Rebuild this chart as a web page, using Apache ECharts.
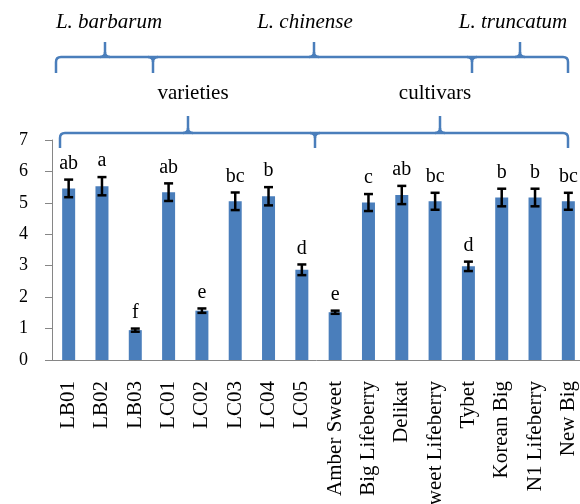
<!DOCTYPE html>
<html>
<head>
<meta charset="utf-8">
<script src="https://cdn.jsdelivr.net/npm/echarts@6/dist/echarts.min.js"></script>
<style>
  html, body { margin: 0; padding: 0; background: #fff; }
  #chart { width: 580px; height: 504px; }
</style>
</head>
<body>
<div id="chart"></div>
<script>
var categories = ['LB01', 'LB02', 'LB03', 'LC01', 'LC02', 'LC03', 'LC04', 'LC05',
  'Amber Sweet', 'Big Lifeberry', 'Delikat', 'Sweet Lifeberry', 'Tybet',
  'Korean Big', 'N1 Lifeberry', 'New Big']
var means = [5.46, 5.53, 0.95, 5.34, 1.57, 5.05, 5.21, 2.87, 1.52, 5.01, 5.25, 5.05, 2.98, 5.17, 5.17, 5.05]
var errors = [0.28, 0.29, 0.05, 0.28, 0.07, 0.28, 0.29, 0.17, 0.05, 0.27, 0.29, 0.27, 0.15, 0.28, 0.28, 0.27]
var letters = ['ab', 'a', 'f', 'ab', 'e', 'bc', 'b', 'd', 'e', 'c', 'ab', 'bc', 'd', 'b', 'b', 'bc']
var yTicks = [0, 1, 2, 3, 4, 5, 6, 7]

var serif = '"Liberation Serif", "Times New Roman", serif'
var braceColor = '#4a7ebb'
var braceStyle = { fill: null, stroke: braceColor, lineWidth: 2.5 }

function seg (x1, y1, x2, y2) {
  return { type: 'line', shape: { x1: x1, y1: y1, x2: x2, y2: y2 }, style: braceStyle }
}
function curve (x1, y1, cx, cy, x2, y2) {
  return { type: 'bezierCurve', shape: { x1: x1, y1: y1, cpx1: cx, cpy1: cy, x2: x2, y2: y2 }, style: braceStyle }
}

// curly brace: ends bend down, tips point up, joins point down
function brace (x1, x2, tips, joins, yLine, yTop, yEnd) {
  var r = 5
  var els = [
    seg(x1, yEnd, x1, yLine + r),
    curve(x1, yLine + r, x1, yLine, x1 + r, yLine),
    seg(x1 + r, yLine, x2 - r, yLine),
    curve(x2 - r, yLine, x2, yLine, x2, yLine + r),
    seg(x2, yLine + r, x2, yEnd)
  ]
  tips.forEach(function (x) {
    els.push(curve(x - r, yLine, x, yLine, x, yLine - r))
    els.push(curve(x + r, yLine, x, yLine, x, yLine - r))
    els.push(seg(x, yLine - r, x, yTop))
  })
  joins.forEach(function (x) {
    els.push(curve(x - r, yLine, x, yLine, x, yLine + r))
    els.push(curve(x + r, yLine, x, yLine, x, yLine + r))
    els.push(seg(x, yLine + r, x, yEnd))
  })
  return { type: 'group', children: els }
}

function label (text, x, y, italic) {
  return {
    type: 'text',
    x: x,
    y: y,
    style: {
      text: text,
      fontFamily: serif,
      fontSize: 21,
      fontStyle: italic ? 'italic' : 'normal',
      fill: '#000',
      align: 'center',
      verticalAlign: 'middle'
    }
  }
}

var chart = echarts.init(document.getElementById('chart'))
chart.setOption({
  animation: false,
  grid: { left: 52, top: 140, right: -5, bottom: 144, outerBoundsMode: 'none', containLabel: false },
  xAxis: {
    type: 'category',
    data: categories,
    axisLine: { lineStyle: { color: '#868686', width: 1 } },
    axisTick: { length: 5, lineStyle: { color: '#868686' } },
    axisLabel: {
      rotate: 90,
      interval: 0,
      margin: 21,
      color: '#000',
      fontFamily: serif,
      fontSize: 21
    }
  },
  yAxis: {
    type: 'value',
    min: yTicks[0],
    max: yTicks[yTicks.length - 1],
    interval: 1,
    splitLine: { show: false },
    axisLine: { show: true, lineStyle: { color: '#868686', width: 1 } },
    axisTick: { show: true, length: 7, lineStyle: { color: '#868686' } },
    axisLabel: {
      margin: 24,
      color: '#000',
      fontFamily: serif,
      fontSize: 18
    }
  },
  series: [{
    type: 'bar',
    data: means,
    barWidth: 13,
    itemStyle: { color: '#4a7ebb' }
  }, {
    type: 'custom',
    data: means.map(function (m, i) { return [i, m, errors[i]] }),
    renderItem: function (params, api) {
      var i = api.value(0)
      var m = api.value(1)
      var e = api.value(2)
      var hi = api.coord([i, m + e])
      var lo = api.coord([i, m - e])
      var w = 4.5
      var st = { stroke: '#000', lineWidth: 2.5 }
      return {
        type: 'group',
        children: [
          { type: 'line', shape: { x1: hi[0], y1: hi[1], x2: lo[0], y2: lo[1] }, style: st },
          { type: 'line', shape: { x1: hi[0] - w, y1: hi[1], x2: hi[0] + w, y2: hi[1] }, style: st },
          { type: 'line', shape: { x1: lo[0] - w, y1: lo[1], x2: lo[0] + w, y2: lo[1] }, style: st },
          {
            type: 'text',
            x: hi[0],
            y: hi[1] - 6,
            style: {
              text: letters[params.dataIndex],
              fontFamily: serif,
              fontSize: 20,
              fill: '#000',
              align: 'center',
              verticalAlign: 'bottom'
            }
          }
        ]
      }
    },
    z: 3
  }],
  graphic: [
    brace(56, 568, [105, 314, 520], [153, 472], 57, 42, 73),
    brace(60, 568, [188, 440], [315], 133, 116, 148),
    label('L. barbarum', 109, 22, true),
    label('L. chinense', 305, 22, true),
    label('L. truncatum', 513, 22, true),
    label('varieties', 193, 93, false),
    label('cultivars', 435, 93, false)
  ]
})
</script>
</body>
</html>
